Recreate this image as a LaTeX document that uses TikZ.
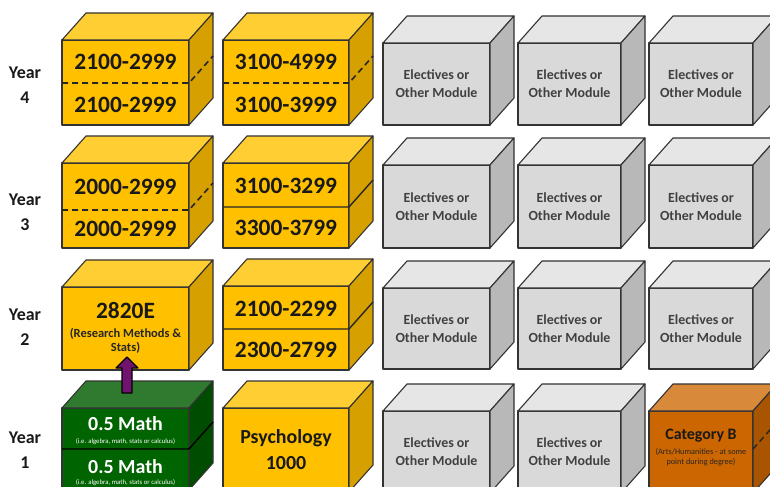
\documentclass[tikz,border=0pt]{standalone}
\usepackage{fontspec}
\setmainfont{Carlito}
\definecolor{yF}{RGB}{255,192,0}
\definecolor{yT}{RGB}{255,206,50}
\definecolor{yS}{RGB}{214,160,0}
\definecolor{eF}{RGB}{217,217,217}
\definecolor{eT}{RGB}{230,230,230}
\definecolor{eS}{RGB}{184,184,184}
\definecolor{gF}{RGB}{0,100,0}
\definecolor{gT}{RGB}{48,122,48}
\definecolor{gS}{RGB}{0,76,0}
\definecolor{oF}{RGB}{204,102,0}
\definecolor{oT}{RGB}{216,138,58}
\definecolor{oS}{RGB}{168,84,0}
\definecolor{arrowpurple}{RGB}{112,20,112}
\newcommand\mycube[8]{%
  \node[face, fill=#6F, minimum width=#4bp, minimum height=#5bp, #7] (#1) at (#2,#3) {#8};
  \draw[edge, fill=#6T] (#1.north west) -- ([shift={(24bp,27bp)}]#1.north west) -- ([shift={(24bp,27bp)}]#1.north east) -- (#1.north east) -- cycle;
  \draw[edge, fill=#6S] (#1.north east) -- ([shift={(24bp,27bp)}]#1.north east) -- ([shift={(24bp,27bp)}]#1.south east) -- (#1.south east) -- cycle;}
\begin{document}
\begin{tikzpicture}[x=1bp,y=-1bp,
  edge/.style={draw=black!80, line width=1.1bp, line join=round},
  face/.style={edge, inner sep=0pt, outer sep=0pt, align=center, anchor=north west},
  divline/.style={draw=black!85, line width=1.6bp, dash pattern=on 6bp off 4bp},
  solidline/.style={draw=black!85, line width=1.4bp},
  num/.style={font=\fontsize{23.5}{26}\selectfont\bfseries, text=black!90},
  elec/.style={font=\fontsize{14}{18}\selectfont\bfseries, text=black!75},
  psy/.style={font=\fontsize{20}{26}\selectfont\bfseries, text=black!90},
  yearlbl/.style={font=\fontsize{18}{25}\selectfont\bfseries, text=black!90, align=center},
  smalltxt/.style={font=\fontsize{12.5}{14}\selectfont\bfseries, text=black!85, align=center},
  mathtxt/.style={font=\fontsize{20}{22}\selectfont\bfseries, text=white},
  tinytxt/.style={font=\fontsize{6.8}{7}\selectfont, text=white},
  cattxt/.style={font=\fontsize{16}{18}\selectfont\bfseries, text=black!90},
  catsub/.style={font=\fontsize{8.3}{10}\selectfont, text=black!85, align=center}]
\clip (0,0) rectangle (770,487);
\fill[white] (0,0) rectangle (770,487);

% year labels
\node[yearlbl] (yl4) at (25,85) {Year\\4};
\node[yearlbl] (yl3) at (25,212) {Year\\3};
\node[yearlbl] (yl2) at (25,327) {Year\\2};
\node[yearlbl] (yl1) at (25,450) {Year\\1};

% ---------- Year 4 ----------
\mycube{y4a}{62}{40}{127}{85}{y}{}{}
\draw[divline] (y4a.west |- 0,83) -- (y4a.east |- 0,83) -- ++(24bp,27bp);
\node[num] (t4a1) at (125.5,62) {2100-2999};
\node[num] (t4a2) at (125.5,105) {2100-2999};
\mycube{y4b}{223}{40}{126}{85}{y}{}{}
\draw[divline] (y4b.west |- 0,83) -- (y4b.east |- 0,83) -- ++(24bp,27bp);
\node[num] (t4b1) at (286,62) {3100-4999};
\node[num] (t4b2) at (286,105) {3100-3999};
\mycube{y4c}{383}{43}{107}{82}{e}{elec}{Electives or\\Other Module}
\mycube{y4d}{518}{43}{103}{82}{e}{elec}{Electives or\\Other Module}
\mycube{y4e}{649}{43}{104}{82}{e}{elec}{Electives or\\Other Module}

% ---------- Year 3 ----------
\mycube{y3a}{62}{163}{127}{85}{y}{}{}
\draw[divline] (y3a.west |- 0,210) -- (y3a.east |- 0,210) -- ++(24bp,27bp);
\node[num] (t3a1) at (125.5,187) {2000-2999};
\node[num] (t3a2) at (125.5,229) {2000-2999};
\mycube{y3b}{223}{163}{126}{85}{y}{}{}
\draw[solidline] (y3b.west |- 0,207) -- (y3b.east |- 0,207) -- ++(24bp,27bp);
\node[num] (t3b1) at (286,186) {3100-3299};
\node[num] (t3b2) at (286,228) {3300-3799};
\mycube{y3c}{383}{165}{107}{83}{e}{elec}{Electives or\\Other Module}
\mycube{y3d}{518}{165}{103}{83}{e}{elec}{Electives or\\Other Module}
\mycube{y3e}{649}{165}{104}{83}{e}{elec}{Electives or\\Other Module}

% ---------- Year 2 ----------
\mycube{y2a}{62}{287}{127}{83}{y}{}{}
\node[num] (t2a1) at (125.5,311) {2820E};
\node[smalltxt] (t2a2) at (125.5,341) {(Research Methods \&\\Stats)};
\mycube{y2b}{223}{286}{126}{84}{y}{}{}
\draw[solidline] (y2b.west |- 0,329) -- (y2b.east |- 0,329) -- ++(24bp,27bp);
\node[num] (t2b1) at (286,309) {2100-2299};
\node[num] (t2b2) at (286,350) {2300-2799};
\mycube{y2c}{383}{288}{107}{81}{e}{elec}{Electives or\\Other Module}
\mycube{y2d}{518}{288}{103}{81}{e}{elec}{Electives or\\Other Module}
\mycube{y2e}{649}{288}{104}{81}{e}{elec}{Electives or\\Other Module}

% ---------- Year 1 ----------
\mycube{y1a}{62}{408}{127}{82}{g}{}{}
\draw[solidline, draw=black] (y1a.west |- 0,449) -- (y1a.east |- 0,449) -- ++(24bp,27bp);
\node[mathtxt] (t1a1) at (125.5,424) {0.5 Math};
\node[tinytxt] (t1a2) at (125.5,442) {(i.e. algebra, math, stats or calculus)};
\node[mathtxt] (t1a3) at (125.5,467) {0.5 Math};
\node[tinytxt] (t1a4) at (125.5,483) {(i.e. algebra, math, stats or calculus)};
\mycube{y1b}{223}{408}{126}{84}{y}{psy}{Psychology\\1000}
\mycube{y1c}{383}{411}{107}{82}{e}{elec}{Electives or\\Other Module}
\mycube{y1d}{518}{411}{103}{82}{e}{elec}{Electives or\\Other Module}
\mycube{y1e}{649}{411}{104}{82}{o}{}{}
\draw[divline, line width=1.4bp] (y1e.east |- 0,449) -- ++(24bp,27bp);
\node[cattxt] (t1e1) at (701,436) {Category B};
\node[catsub] (t1e2) at (701,457) {(Arts/Humanities - at some\\point during degree)};

% arrow from Math to 2820E
\coordinate (arrT) at (127,357);
\coordinate (arrS) at (127,393);
\draw[edge, draw=black, fill=arrowpurple] (arrT) -- ++(11bp,-11bp) -- ++(-6bp,0) -- (arrS -| 132,0) -- (arrS -| 122,0) -- ++(0,25bp) -- ++(-6bp,0) -- cycle;
\end{tikzpicture}
\end{document}
